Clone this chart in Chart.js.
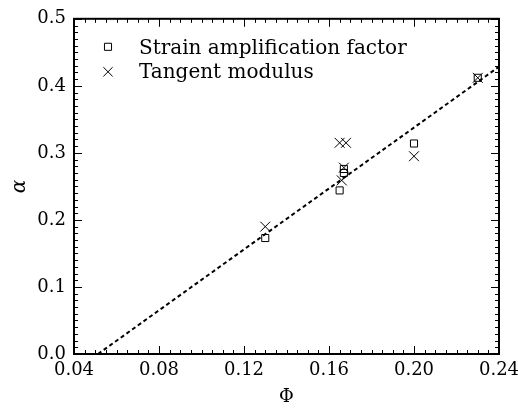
<!DOCTYPE html>
<html>
<head>
<meta charset="utf-8">
<script src="https://cdn.jsdelivr.net/npm/chart.js@4.4.0/dist/chart.umd.min.js"></script>
<style>
  body { margin: 0; background: #fff; }
  #wrap { width: 518px; height: 408px; }
</style>
</head>
<body>
<div id="wrap"><canvas id="fig"></canvas></div>
<script>
// values
var strainX = [0.130, 0.165, 0.167, 0.167, 0.200, 0.230];
var strainY = [0.173, 0.244, 0.270, 0.276, 0.314, 0.412];
var tangentX = [0.130, 0.165, 0.168, 0.166, 0.167, 0.200, 0.230];
var tangentY = [0.190, 0.315, 0.315, 0.259, 0.278, 0.295, 0.412];
var fitX = [0.0513, 0.24];
var fitY = [0.0, 0.4286];

var FONT = '"DejaVu Serif", "Liberation Serif", serif';

function pts(xs, ys) {
    return xs.map(function (x, i) { return { x: x, y: ys[i] }; });
}

// frame, inward ticks on all four sides, and the legend
var framePlugin = {
    id: 'frame',
    afterDraw: function (chart) {
        var c = chart.ctx, a = chart.chartArea;
        var xs = chart.scales.x, ys = chart.scales.y;
        c.save();
        c.strokeStyle = '#000';
        c.lineWidth = 1;
        var i, v, p, len;
        for (i = 0; i <= 40; i++) {
            v = 0.04 + i * 0.005;
            p = Math.round(xs.getPixelForValue(v)) + 0.5;
            len = (i % 8 === 0) ? 8 : 4;
            c.beginPath();
            c.moveTo(p, a.bottom); c.lineTo(p, a.bottom - len);
            c.moveTo(p, a.top); c.lineTo(p, a.top + len);
            c.stroke();
        }
        for (i = 0; i <= 50; i++) {
            v = i * 0.01;
            p = Math.round(ys.getPixelForValue(v)) + 0.5;
            len = (i % 10 === 0) ? 8 : 4;
            c.beginPath();
            c.moveTo(a.left, p); c.lineTo(a.left + len, p);
            c.moveTo(a.right, p); c.lineTo(a.right - len, p);
            c.stroke();
        }
        c.lineWidth = 2;
        c.strokeRect(a.left, a.top, a.right - a.left, a.bottom - a.top);

        // legend
        c.lineWidth = 1;
        c.fillStyle = 'rgba(0,0,0,0)';
        Chart.helpers.drawPoint(c, { pointStyle: 'rect', radius: 5, borderWidth: 1 }, a.left + 34, a.top + 28);
        Chart.helpers.drawPoint(c, { pointStyle: 'crossRot', radius: 6.5, borderWidth: 1 }, a.left + 34, a.top + 53);
        c.fillStyle = '#000';
        c.font = '20px ' + FONT;
        c.textBaseline = 'middle';
        c.fillText('Strain amplification factor', a.left + 65, a.top + 30);
        c.fillText('Tangent modulus', a.left + 65, a.top + 54);
        c.restore();
    }
};

var ctx = document.getElementById('fig').getContext('2d');
new Chart(ctx, {
    type: 'scatter',
    data: {
        datasets: [{
            label: 'Strain amplification factor',
            data: pts(strainX, strainY),
            pointStyle: 'rect',
            pointRadius: 5,
            pointBorderWidth: 1,
            borderColor: '#000',
            backgroundColor: 'rgba(0,0,0,0)'
        }, {
            label: 'Tangent modulus',
            data: pts(tangentX, tangentY),
            pointStyle: 'crossRot',
            pointRadius: 7,
            pointBorderWidth: 1,
            borderColor: '#000',
            backgroundColor: '#000'
        }, {
            type: 'line',
            label: 'fit',
            data: pts(fitX, fitY),
            borderColor: '#000',
            borderWidth: 2,
            borderDash: [4, 3],
            pointRadius: 0,
            fill: false
        }]
    },
    options: {
        responsive: true,
        maintainAspectRatio: false,
        animation: false,
        layout: { padding: { top: 17, right: 19, left: 0, bottom: 0 } },
        plugins: {
            legend: { display: false },
            tooltip: { enabled: false }
        },
        scales: {
            x: {
                type: 'linear',
                min: 0.04, max: 0.24,
                afterFit: function (s) { s.height = 54; s.paddingRight = 0; },
                grid: { display: false, drawTicks: false },
                border: { display: false },
                ticks: {
                    stepSize: 0.04, color: '#000', padding: 6,
                    font: { family: FONT, size: 18 },
                    callback: function (v) { return v.toFixed(2); }
                },
                title: {
                    display: true, text: 'Φ', color: '#000', padding: { top: 2, bottom: 0 },
                    font: { family: FONT, size: 18 }
                }
            },
            y: {
                min: 0, max: 0.5,
                afterFit: function (s) { s.width = 74; },
                grid: { display: false, drawTicks: false },
                border: { display: false },
                ticks: {
                    stepSize: 0.1, color: '#000', padding: 8,
                    font: { family: FONT, size: 18 },
                    callback: function (v) { return v.toFixed(1); }
                },
                title: {
                    display: true, text: 'α', color: '#000', padding: { top: 8, bottom: 0 },
                    font: { family: FONT, size: 20, style: 'italic' }
                }
            }
        }
    },
    plugins: [framePlugin]
});
</script>
</body>
</html>
